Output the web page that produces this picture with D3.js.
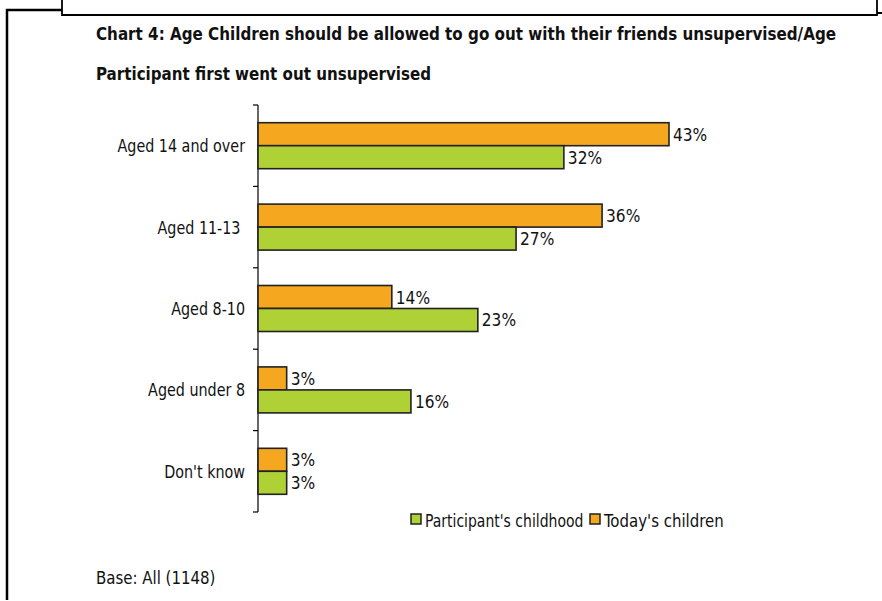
<!DOCTYPE html>
<html><head><meta charset="utf-8">
<script src="https://cdn.jsdelivr.net/npm/d3@7"></script>
<style>body{margin:0;background:#fff}svg{display:block}text{font-family:"DejaVu Sans Condensed","DejaVu Sans",sans-serif;fill:#111}</style>
</head><body>
<svg id="c" width="882" height="601"></svg>
<script>
const categories = ["Aged 14 and over", "Aged 11-13 ", "Aged 8-10", "Aged under 8", "Don't know"];
const seriesNames = ["Today's children", "Participant's childhood"];
const todays = [43, 36, 14, 3, 3];
const participants = [32, 27, 23, 16, 3];
const colors = {"Today's children": "#F5A720", "Participant's childhood": "#AFD136"};

const svg = d3.select("#c");
// frame
svg.append("path").attr("d","M7,600 V10 H62").attr("fill","none").attr("stroke","#000").attr("stroke-width",2.5);
svg.append("path").attr("d","M62,0 V15 H877 V0").attr("fill","none").attr("stroke","#000").attr("stroke-width",1.8);
svg.append("path").attr("d","M877,13 H882").attr("fill","none").attr("stroke","#000").attr("stroke-width",2);

svg.append("text").attr("x",96).attr("y",40).attr("font-weight","bold").attr("font-size",17.5)
  .attr("textLength",740).attr("lengthAdjust","spacingAndGlyphs")
  .text("Chart 4: Age Children should be allowed to go out with their friends unsupervised/Age");
svg.append("text").attr("x",96).attr("y",80).attr("font-weight","bold").attr("font-size",17.5)
  .attr("textLength",335).attr("lengthAdjust","spacingAndGlyphs")
  .text("Participant first went out unsupervised");

const x0 = 258;
const x = d3.scaleLinear().domain([0, 43]).range([x0, 669]);
const y = d3.scaleBand().domain(categories).range([105, 512]).paddingInner(0.435).paddingOuter(0.2175);
const yi = d3.scaleBand().domain(seriesNames).range([0, y.bandwidth()]);

const ag = svg.append("g").attr("transform",`translate(${x0},0)`);
ag.append("line").attr("x1",0).attr("x2",0).attr("y1",105).attr("y2",512).attr("stroke","#000").attr("stroke-width",1.2);
const bounds = d3.range(categories.length+1).map(i => 105 + i*(512-105)/categories.length);
ag.selectAll(".tk").data(bounds).join("line").attr("x1",-5).attr("x2",0).attr("y1",d=>d).attr("y2",d=>d).attr("stroke","#000").attr("stroke-width",1.2);
ag.selectAll(".cl").data(categories).join("text").attr("class","nt").attr("data-k",0.86).attr("x",-13).attr("y",d=>y(d)+y.bandwidth()/2+6.5)
  .attr("text-anchor","end").attr("font-size",18.5).style("white-space","pre").text(d=>d);

const rows = [];
categories.forEach((c,i)=>{
  rows.push({c, s:"Today's children", v:todays[i]});
  rows.push({c, s:"Participant's childhood", v:participants[i]});
});
svg.selectAll(".bar").data(rows).join("rect")
  .attr("x", x(0)).attr("y", d=>y(d.c)+yi(d.s)).attr("width", d=>x(d.v)-x(0)).attr("height", yi.bandwidth())
  .attr("fill", d=>colors[d.s]).attr("stroke","#222").attr("stroke-width",1.6);
svg.selectAll(".lbl").data(rows).join("text").attr("class","nt").attr("data-k",0.95)
  .attr("x", d=>x(d.v)+4).attr("y", d=>y(d.c)+yi(d.s)+yi.bandwidth()/2+6.5)
  .attr("font-size",18).text(d=>d.v+"%");

// legend
const leg = [{s:"Participant's childhood", x:411, k:0.84},{s:"Today's children", x:590, k:0.9}];
leg.forEach(l=>{
  svg.append("rect").attr("x",l.x).attr("y",514).attr("width",10).attr("height",10).attr("fill",colors[l.s]).attr("stroke","#222").attr("stroke-width",1.5);
  svg.append("text").attr("class","nt").attr("data-k",l.k).attr("x",l.x+14).attr("y",526.5).attr("font-size",18.5).text(l.s);
});

svg.append("text").attr("class","nt").attr("data-k",0.9).attr("x",96).attr("y",584).attr("font-size",18.5).text("Base: All (1148)");

// narrow the humanist glyphs like the reference
svg.selectAll("text.nt").each(function(){
  const w = this.getComputedTextLength();
  const k = +this.getAttribute("data-k");
  d3.select(this).attr("textLength", w*k).attr("lengthAdjust","spacingAndGlyphs");
});
</script>
</body></html>
